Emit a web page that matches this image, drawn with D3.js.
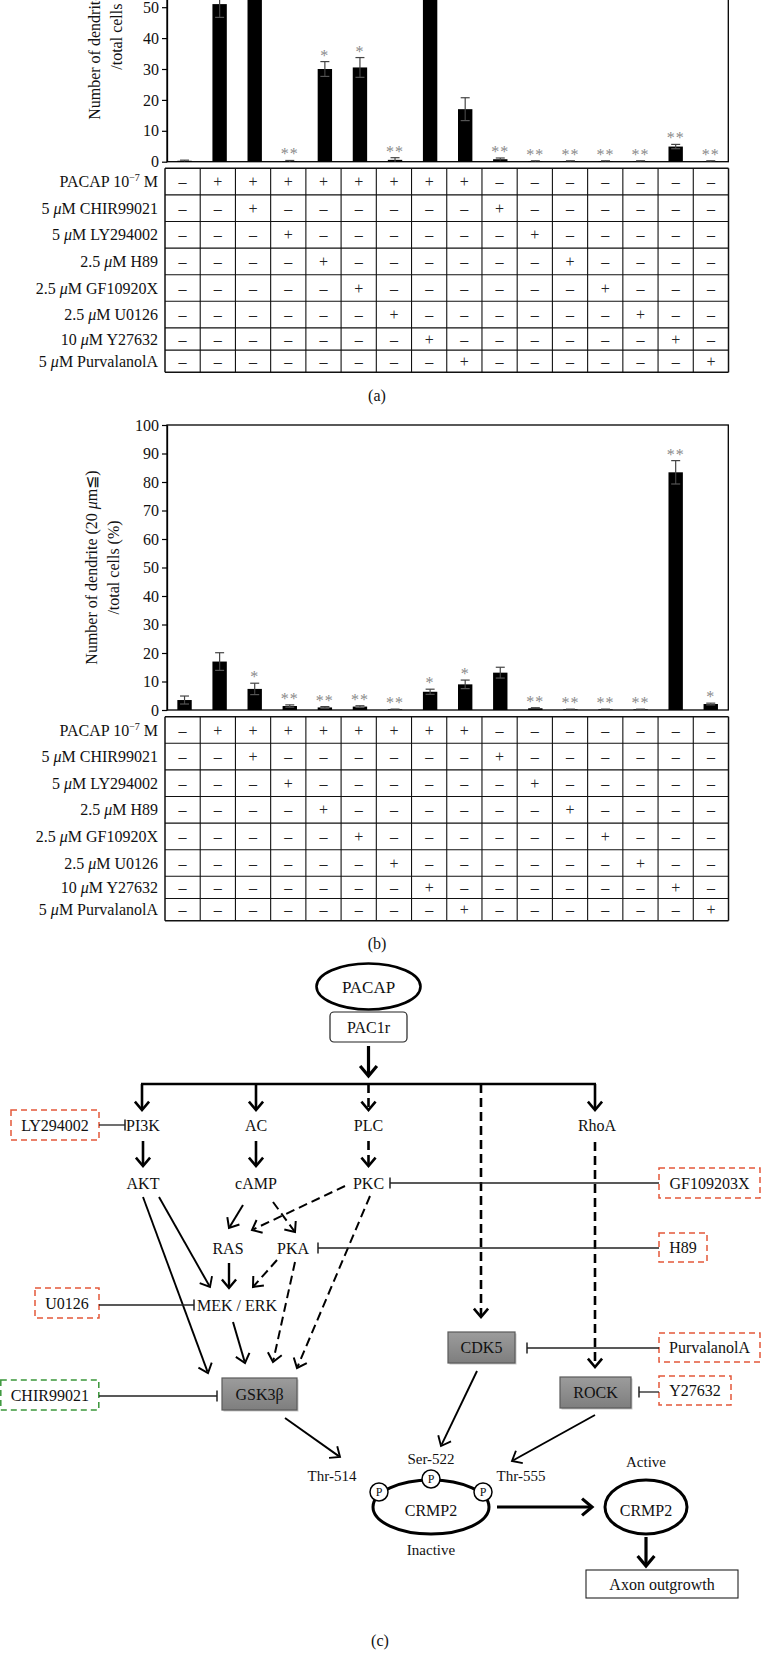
<!DOCTYPE html>
<html><head><meta charset="utf-8">
<script src="https://cdn.jsdelivr.net/npm/d3@7"></script>
<style>
html,body{margin:0;padding:0;background:#fff;}
svg{display:block;font-family:"Liberation Serif","Times New Roman",serif;}
</style></head><body>
<svg id="fig" width="761" height="1656"></svg>
<script>
// ---------------- DATA ----------------
const conditions = ["Control","PACAP","PACAP+CHIR99021","PACAP+LY294002","PACAP+H89","PACAP+GF10920X",
  "PACAP+U0126","PACAP+Y27632","PACAP+PurvalanolA","CHIR99021","LY294002","H89","GF10920X","U0126","Y27632","PurvalanolA"];

// panel (a)
const valuesA = [0.3, 51.0, 66.0, 0.2, 30.0, 30.5, 0.6, 60.0, 17.0, 0.8, 0.2, 0.2, 0.2, 0.2, 4.9, 0.2];
const errorsA = [0.2, 4.3, 5.0, 0.2, 2.4, 3.2, 0.7, 5.0, 3.7, 0.4, 0.1, 0.1, 0.1, 0.1, 0.7, 0.1];
const starsA  = ["", "", "", "**", "*", "*", "**", "", "", "**", "**", "**", "**", "**", "**", "**"];
const yTicksA = [0,10,20,30,40,50];

// panel (b)
const valuesB = [3.5, 17.0, 7.4, 1.4, 0.9, 1.2, 0.2, 6.4, 9.0, 13.1, 0.6, 0.2, 0.2, 0.2, 83.4, 2.1];
const errorsB = [1.4, 3.1, 2.0, 0.4, 0.3, 0.3, 0.1, 0.9, 1.5, 1.9, 0.2, 0.1, 0.1, 0.1, 4.1, 0.3];
const starsB  = ["", "", "*", "**", "**", "**", "**", "*", "*", "", "**", "**", "**", "**", "**", "*"];
const yTicksB = [0,10,20,30,40,50,60,70,80,90,100];

// treatment table (same for a and b)
const treatmentLabels = ["PACAP","CHIR99021","LY294002","H89","GF10920X","U0126","Y27632","PurvalanolA"];
const treatmentDoses  = ["10","5","5","2.5","2.5","2.5","10","5"];
const treatmentSigns  = [
  "-++++++++-------",
  "--+------+------",
  "---+------+-----",
  "----+------+----",
  "-----+------+---",
  "------+------+--",
  "-------+------+-",
  "--------+------+"
];

// pathway diagram (c)
const pathwayNodes = ["PACAP","PAC1r","PI3K","AC","PLC","RhoA","AKT","cAMP","PKC","RAS","PKA","MEK / ERK","GSK3β","CDK5","ROCK"];
const kinaseBoxes = ["GSK3β","CDK5","ROCK"];
const inhibitorNames = ["LY294002","GF109203X","H89","U0126","PurvalanolA","CHIR99021","Y27632"];
const activationEdges = [
  ["PAC1r","split","solid"],["split","PI3K","solid"],["split","AC","solid"],["split","PLC","dashed"],
  ["split","CDK5","dashed"],["split","RhoA","solid"],["PI3K","AKT","solid"],["AC","cAMP","solid"],
  ["PLC","PKC","dashed"],["RhoA","ROCK","dashed"],["AKT","MEK / ERK","solid"],["AKT","GSK3β","solid"],
  ["cAMP","RAS","solid"],["cAMP","PKA","dashed"],["PKC","RAS","dashed"],["PKC","GSK3β","dashed"],
  ["RAS","MEK / ERK","solid"],["PKA","MEK / ERK","dashed"],["PKA","GSK3β","dashed"],["MEK / ERK","GSK3β","solid"],
  ["GSK3β","Thr-514","solid"],["CDK5","Ser-522","solid"],["ROCK","Thr-555","solid"],
  ["Inactive","Active","solid"],["Active","Axon outgrowth","solid"]
];
const inhibitionEdges = [
  ["LY294002","PI3K"],["GF109203X","PKC"],["H89","PKA"],["U0126","MEK / ERK"],
  ["PurvalanolA","CDK5"],["CHIR99021","GSK3β"],["Y27632","ROCK"]
];
const phosphoSites = ["Thr-514","Ser-522","Thr-555"];

// ---------------- LAYOUT ----------------
const svg = d3.select("#fig");
svg.append("rect").attr("width",761).attr("height",1656).attr("fill","#fff");
const FONT = 16;
const rowHeights = [26.6,26.6,26.6,26.6,26.6,26.6,22.2,22.2];

function drawPanel(cfg) {
  const g = svg.append("g");
  const top = cfg.zeroY - cfg.yMax*cfg.pxPerUnit;
  const y = d3.scaleLinear().domain([0, cfg.yMax]).range([cfg.zeroY, top]);
  const x = d3.scaleBand().domain(d3.range(conditions.length)).range([167, 728.3])
    .paddingInner(0.59).paddingOuter(0.295);

  g.append("rect").attr("x",167).attr("y",top).attr("width",728.3-167).attr("height",cfg.zeroY-top)
    .attr("fill","none").attr("stroke","#000").attr("stroke-width",1.3);

  const ax = g.append("g").attr("transform","translate(167,0)")
    .call(d3.axisLeft(y).tickValues(cfg.ticks).tickSize(5).tickSizeOuter(0).tickPadding(3));
  ax.select(".domain").attr("stroke-width",1.3);
  ax.selectAll(".tick line").attr("stroke-width",1.2);
  ax.selectAll("text").attr("font-size",FONT).attr("font-family","Liberation Serif").attr("fill","#111");

  g.selectAll(".bar").data(cfg.values).join("rect")
    .attr("x",(d,i)=>x(i)).attr("width",x.bandwidth())
    .attr("y",d=>y(d)).attr("height",d=>cfg.zeroY-y(d)).attr("fill","#000");

  const eb = g.selectAll(".eb").data(cfg.values).join("g");
  eb.append("line").attr("x1",(d,i)=>x(i)+x.bandwidth()/2).attr("x2",(d,i)=>x(i)+x.bandwidth()/2)
    .attr("y1",(d,i)=>y(Math.max(0,d-cfg.errors[i]))).attr("y2",(d,i)=>y(d+cfg.errors[i]))
    .attr("stroke","#444").attr("stroke-width",1.2);
  eb.append("line").attr("x1",(d,i)=>x(i)+x.bandwidth()/2-4.5).attr("x2",(d,i)=>x(i)+x.bandwidth()/2+4.5)
    .attr("y1",(d,i)=>y(d+cfg.errors[i])).attr("y2",(d,i)=>y(d+cfg.errors[i]))
    .attr("stroke","#444").attr("stroke-width",1.2);
  eb.append("line").attr("x1",(d,i)=>x(i)+x.bandwidth()/2-4.5).attr("x2",(d,i)=>x(i)+x.bandwidth()/2+4.5)
    .attr("y1",(d,i)=>y(Math.max(0,d-cfg.errors[i]))).attr("y2",(d,i)=>y(Math.max(0,d-cfg.errors[i])))
    .attr("stroke",(d,i)=>d-cfg.errors[i]>0.5?"#555":"none").attr("stroke-width",1.2);

  g.selectAll(".star").data(cfg.stars).join("text")
    .attr("x",(d,i)=>x(i)+x.bandwidth()/2).attr("y",(d,i)=>y(cfg.values[i]+cfg.errors[i])-1)
    .attr("text-anchor","middle").attr("font-size",16).attr("letter-spacing",1).attr("fill","#8a8a8a").text(d=>d);

  const mid = y(cfg.yMax/2);
  const lab = g.append("text").attr("transform",`translate(${cfg.labelX},${mid}) rotate(-90)`)
    .attr("text-anchor","middle").attr("font-size",FONT).attr("fill","#111");
  lab.append("tspan").text("Number of dendrite (20 ");
  lab.append("tspan").attr("font-style","italic").text("μ");
  lab.append("tspan").text("m≦)");
  g.append("text").attr("transform",`translate(${cfg.labelX+22},${mid}) rotate(-90)`)
    .attr("text-anchor","middle").attr("font-size",FONT).attr("fill","#111").text("/total cells (%)");

  const tx = d3.scaleBand().domain(d3.range(conditions.length)).range([165, 728.5]);
  const rowTops = [cfg.tableTop];
  rowHeights.forEach((h,i)=>rowTops.push(rowTops[i]+h));
  const tb = g.append("g");
  tb.selectAll(".hl").data(rowTops).join("line")
    .attr("x1",165).attr("x2",728.5).attr("y1",d=>d).attr("y2",d=>d)
    .attr("stroke","#111").attr("stroke-width",(d,i)=>(i===0||i===rowTops.length-1)?1.5:1.1);
  tb.selectAll(".vl").data(d3.range(conditions.length+1)).join("line")
    .attr("x1",d=>165+d*tx.step()).attr("x2",d=>165+d*tx.step())
    .attr("y1",rowTops[0]).attr("y2",rowTops[rowTops.length-1])
    .attr("stroke","#111").attr("stroke-width",(d)=>(d===0||d===conditions.length)?1.5:1.1);
  treatmentSigns.forEach((row,r)=>{
    const cy = (rowTops[r]+rowTops[r+1])/2;
    tb.selectAll(null).data(row.split("")).join("text")
      .attr("x",(d,i)=>tx(i)+tx.bandwidth()/2).attr("y",cy).attr("dy","0.35em")
      .attr("text-anchor","middle").attr("font-size",FONT).attr("fill","#222")
      .text(d=>d==="+"?"+":"–");
    const t = tb.append("text").attr("x",158).attr("y",cy+5.6)
      .attr("text-anchor","end").attr("font-size",FONT).attr("fill","#111");
    if (r===0) {
      t.append("tspan").text("PACAP 10");
      t.append("tspan").attr("font-size",10).attr("dy",-6).text("−7");
      t.append("tspan").attr("dy",6).text(" M");
    } else {
      t.append("tspan").text(treatmentDoses[r]+" ");
      t.append("tspan").attr("font-style","italic").text("μ");
      t.append("tspan").text("M "+treatmentLabels[r]);
    }
  });

  svg.append("text").attr("x",377).attr("y",cfg.panelLabelY).attr("dy","0.35em")
    .attr("text-anchor","middle").attr("font-size",FONT).attr("fill","#111").text(cfg.panelLabel);
}

drawPanel({values:valuesA, errors:errorsA, stars:starsA, ticks:yTicksA, yMax:90,
  zeroY:161.7, pxPerUnit:3.09, tableTop:168.3, labelX:100, panelLabel:"(a)", panelLabelY:395});
drawPanel({values:valuesB, errors:errorsB, stars:starsB, ticks:yTicksB, yMax:100,
  zeroY:710, pxPerUnit:2.85, tableTop:716.7, labelX:97, panelLabel:"(b)", panelLabelY:943});

// ---------------- DIAGRAM (c) ----------------
const dg = svg.append("g");
const defs = svg.append("defs");
const grad = defs.append("linearGradient").attr("id","gbox").attr("x1",0).attr("y1",0).attr("x2",0).attr("y2",1);
grad.append("stop").attr("offset","0%").attr("stop-color","#9c9c9c");
grad.append("stop").attr("offset","100%").attr("stop-color","#7e7e7e");

const textPos = {
  "PACAP":[368.5,987], "PAC1r":[368.5,1027], "PI3K":[143,1125], "AC":[256,1125], "PLC":[368.5,1125],
  "RhoA":[597,1125], "AKT":[143,1183], "cAMP":[256,1183], "PKC":[368.5,1183], "RAS":[228,1248],
  "PKA":[293,1248], "MEK / ERK":[237,1305], "GSK3β":[259.5,1394], "CDK5":[481.5,1347.5], "ROCK":[595.5,1392.5]
};
const boxGeom = { "GSK3β":[222,1378,75,32], "CDK5":[448,1332,67,31], "ROCK":[560,1377,71,31] };
const inhBox = {
  "LY294002":[11,1110,88,30], "GF109203X":[659,1168,101,30], "H89":[659,1233,48,29],
  "U0126":[35,1288,64,30], "PurvalanolA":[659,1333,101,29], "CHIR99021":[0.8,1380,98,30],
  "Y27632":[659,1376,72,29]
};
const edgeGeom = {
  "PAC1r>split":[368.5,1046,368.5,1076,3.2,13],
  "split>PI3K":[142,1084,142,1110,2.6,11], "split>AC":[256,1084,256,1110,2.6,11],
  "split>PLC":[368.5,1084,368.5,1110,2.6,11], "split>CDK5":[481,1084,481,1317,2.6,11],
  "split>RhoA":[595,1084,595,1110,2.6,11],
  "PI3K>AKT":[143,1141,143,1166,2.6,11], "AC>cAMP":[256,1141,256,1166,2.6,11],
  "PLC>PKC":[368.5,1141,368.5,1166,2.6,11], "RhoA>ROCK":[595,1142,595,1367,2.6,11],
  "AKT>MEK / ERK":[159,1197,210,1287,1.9,11], "AKT>GSK3β":[143,1197,208,1373,1.9,11],
  "cAMP>RAS":[243,1205,229,1228,2,11], "cAMP>PKA":[273,1202,295,1232,2,11],
  "PKC>RAS":[345,1186,252,1230,2,11], "PKC>GSK3β":[370,1196,297,1368,2,11],
  "RAS>MEK / ERK":[229,1263,229,1288,2.4,11], "PKA>MEK / ERK":[277,1260,253,1287,2,11],
  "PKA>GSK3β":[295,1262,273,1362,2,11], "MEK / ERK>GSK3β":[233,1322,245,1363,2,11],
  "GSK3β>Thr-514":[285,1418,340,1457,1.9,11], "CDK5>Ser-522":[477,1371,441,1446,1.9,11],
  "ROCK>Thr-555":[595,1415,512,1461,1.9,11],
  "Inactive>Active":[497,1507,592,1507,3.2,13], "Active>Axon outgrowth":[646,1537,646,1566,3.2,13]
};
const inhGeom = {
  "LY294002":[99,1125,125,1125], "GF109203X":[659,1183,390,1183], "H89":[659,1248,318,1248],
  "U0126":[99,1305,194,1305], "PurvalanolA":[659,1348,527,1348], "CHIR99021":[99,1396,217,1396],
  "Y27632":[659,1392,639,1392]
};

function label(x,y,s,size){
  return dg.append("text").attr("x",x).attr("y",y).attr("dy","0.35em").attr("text-anchor","middle")
    .attr("font-size",size||FONT).attr("fill","#111").text(s);
}

dg.append("ellipse").attr("cx",368.5).attr("cy",986.5).attr("rx",52).attr("ry",23)
  .attr("fill","none").attr("stroke","#000").attr("stroke-width",2.6);
dg.append("rect").attr("x",330).attr("y",1012).attr("width",77).attr("height",30).attr("rx",4)
  .attr("fill","none").attr("stroke","#222").attr("stroke-width",1.2);
dg.append("line").attr("x1",141).attr("x2",596).attr("y1",1084).attr("y2",1084)
  .attr("stroke","#000").attr("stroke-width",2.6);

kinaseBoxes.forEach(k=>{
  const b = boxGeom[k];
  dg.append("rect").attr("x",b[0]+1.5).attr("y",b[1]+1.5).attr("width",b[2]).attr("height",b[3]).attr("fill","#c8c8c8");
  dg.append("rect").attr("x",b[0]).attr("y",b[1]).attr("width",b[2]).attr("height",b[3])
    .attr("fill","url(#gbox)").attr("stroke","#5a5a5a").attr("stroke-width",1.2);
});
pathwayNodes.forEach(n=>{ const p=textPos[n]; label(p[0],p[1],n, n==="PACAP"?17:FONT); });

inhibitorNames.forEach(n=>{
  const b = inhBox[n];
  dg.append("rect").attr("x",b[0]).attr("y",b[1]).attr("width",b[2]).attr("height",b[3])
    .attr("fill","#fff").attr("stroke", n==="CHIR99021"?"#3a963a":"#e4583a")
    .attr("stroke-width",1.5).attr("stroke-dasharray","6,4");
  label(b[0]+b[2]/2, b[1]+b[3]/2, n);
});

function arrow(x1,y1,x2,y2,sw,len,dashed){
  const ang = Math.atan2(y2-y1,x2-x1);
  dg.append("line").attr("x1",x1).attr("y1",y1).attr("x2",x2-Math.cos(ang)*1.5).attr("y2",y2-Math.sin(ang)*1.5)
    .attr("stroke","#000").attr("stroke-width",sw).attr("stroke-dasharray",dashed?"9,5":null);
  const a = 0.7;
  dg.append("path").attr("d",`M${x2-len*Math.cos(ang-a)},${y2-len*Math.sin(ang-a)}L${x2},${y2}L${x2-len*Math.cos(ang+a)},${y2-len*Math.sin(ang+a)}`)
    .attr("fill","none").attr("stroke","#000").attr("stroke-width",sw).attr("stroke-linejoin","miter");
}
activationEdges.forEach(e=>{
  const g = edgeGeom[e[0]+">"+e[1]];
  arrow(g[0],g[1],g[2],g[3],g[4],g[5],e[2]==="dashed");
});
inhibitionEdges.forEach(e=>{
  const g = inhGeom[e[0]];
  dg.append("line").attr("x1",g[0]).attr("y1",g[1]).attr("x2",g[2]).attr("y2",g[3])
    .attr("stroke","#222").attr("stroke-width",1.3);
  dg.append("line").attr("x1",g[2]).attr("x2",g[2]).attr("y1",g[3]-5.5).attr("y2",g[3]+5.5)
    .attr("stroke","#222").attr("stroke-width",1.5);
});

dg.append("ellipse").attr("cx",431).attr("cy",1507).attr("rx",58).attr("ry",27)
  .attr("fill","#fff").attr("stroke","#000").attr("stroke-width",3);
label(431,1510,"CRMP2");
const pCircles = [[379,1492],[431,1479],[483,1492]];
pCircles.forEach(p=>{
  dg.append("circle").attr("cx",p[0]).attr("cy",p[1]).attr("r",9)
    .attr("fill","#fff").attr("stroke","#000").attr("stroke-width",1.5);
  label(p[0],p[1],"P",12);
});
const sitePos = [[332,1476],[431,1459],[521,1476]];
phosphoSites.forEach((s,i)=>label(sitePos[i][0],sitePos[i][1],s,15));
label(431,1550,"Inactive",15);
label(646,1462,"Active",15);
dg.append("ellipse").attr("cx",646).attr("cy",1507).attr("rx",41).attr("ry",27)
  .attr("fill","#fff").attr("stroke","#000").attr("stroke-width",3);
label(646,1510,"CRMP2");
dg.append("rect").attr("x",586).attr("y",1570).attr("width",152).attr("height",28)
  .attr("fill","#fff").attr("stroke","#222").attr("stroke-width",1.1);
label(662,1584,"Axon outgrowth");
label(380,1640,"(c)");
</script>
</body></html>
